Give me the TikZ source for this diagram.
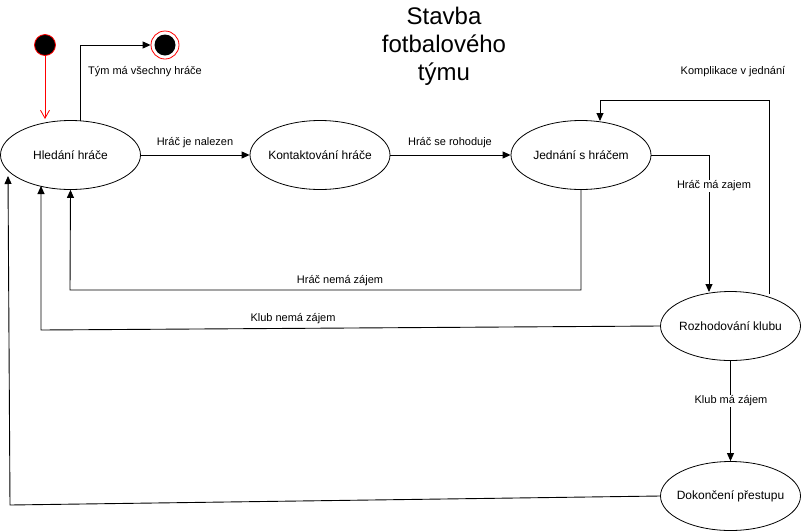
\documentclass[tikz,border=0pt]{standalone}
\usepackage{fontspec}
\setmainfont{Liberation Sans}
\usetikzlibrary{arrows.meta,shapes.geometric}
\begin{document}
\begin{tikzpicture}[x=1pt,y=-1pt,
  state/.style={draw,ellipse,line width=0.8pt,minimum width=140pt,minimum height=69pt,inner xsep=-18pt,inner ysep=0pt,font=\fontsize{12}{14}\selectfont},
  lbl/.style={font=\fontsize{11}{13}\selectfont},
  flow/.style={draw,line width=0.9pt,-{Triangle[length=8pt,width=7pt]}},
  ]
\useasboundingbox (0,0) rectangle (801,531);

% title
\node[align=center,font=\fontsize{24}{28}\selectfont] (title) at (444,46) {Stavba\\fotbalového\\týmu};

% states
\node[state] (hledani) at (70.5,155) {Hledání hráče};
\node[state] (kontakt) at (320,155) {Kontaktování hráče};
\node[state] (jednani) at (581,155) {Jednání s hráčem};
\node[state] (rozhod) at (730.5,326) {Rozhodování klubu};
\node[state] (dokonc) at (730.5,496) {Dokončení přestupu};

% initial and final states
\node[circle,fill=black,draw=red,line width=0.8pt,minimum size=21pt,inner sep=0pt] (start) at (45,45) {};
\node[circle,draw=red,line width=0.8pt,minimum size=28pt,inner sep=0pt] (final) at (165,45) {};
\node[circle,fill=black,minimum size=21pt,inner sep=0pt] (finalcore) at (165,45) {};

% transitions
\coordinate (entry) at (45,119);
\draw[red,line width=0.8pt,-{Straight Barb[length=8pt,width=9pt]}] (start.south) -- (entry);
\draw[flow] (80,120.5) |- (final.west);
\node[lbl] (l0) at (145,72) {Tým má všechny hráče};

\draw[flow] (hledani) -- (kontakt);
\node[lbl] (l1) at (195,143) {Hráč je nalezen};

\draw[flow] (kontakt) -- (jednani);
\node[lbl] (l2) at (450,143) {Hráč se rohoduje};

\coordinate (jr) at (709,155);
\draw[flow] (jednani.east) -- (jr) -- (709,292);
\node[lbl,fill=white,inner sep=1pt] (l3) at (714,186) {Hráč má zajem};

\coordinate (k1) at (769,100);
\coordinate (k2) at (600,100);
\draw[flow] (769,294) -- (k1) -- (k2) -- (600,121);
\node[lbl] (l4) at (733,72) {Komplikace v jednání};

\coordinate (n1) at (581,290);
\coordinate (n2) at (70,290);
\draw[flow] (jednani.south) -- (n1) -- (n2) -- (hledani.south);
\node[lbl] (l5) at (340,281) {Hráč nemá zájem};

\coordinate (c1) at (41,330);
\draw[flow] (rozhod.west) -- (c1) -- (41,186);
\node[lbl] (l6) at (293,319) {Klub nemá zájem};

\draw[flow] (rozhod.south) -- (dokonc.north);
\node[lbl,fill=white,inner sep=1pt] (l7) at (731,401) {Klub má zájem};

\coordinate (d1) at (10,505);
\draw[flow] (dokonc.west) -- (d1) -- (8,176);
\end{tikzpicture}
\end{document}
